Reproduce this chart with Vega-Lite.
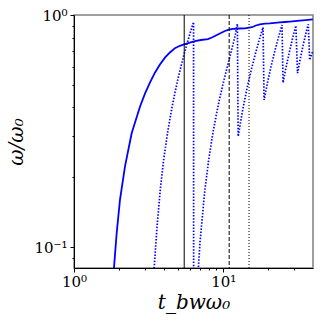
{
  "$schema": "https://vega.github.io/schema/vega-lite/v6.json",
  "width": 239,
  "height": 253,
  "autosize": {"type": "none"},
  "padding": {"left": 74, "top": 15, "right": 12, "bottom": 57},
  "background": "white",
  "config": {
    "view": {"stroke": "#808080", "strokeWidth": 1.5},
    "axis": {"grid": false, "domainColor": "#000000", "tickColor": "#000000", "labelColor": "#000000", "titleColor": "#000000", "labelFont": "DejaVu Serif", "titleFont": "DejaVu Serif"}
  },
  "datasets": {
    "solid": [
      {"t": 1.850, "w": 0.0800}, {"t": 1.853, "w": 0.0814}, {"t": 1.932, "w": 0.1149}, {"t": 2.033, "w": 0.1598},
      {"t": 2.196, "w": 0.2223}, {"t": 2.435, "w": 0.3096}, {"t": 2.768, "w": 0.4029}, {"t": 2.990, "w": 0.4584},
      {"t": 3.228, "w": 0.5111}, {"t": 3.487, "w": 0.5644}, {"t": 3.767, "w": 0.6121}, {"t": 4.069, "w": 0.6549},
      {"t": 4.395, "w": 0.6896}, {"t": 4.748, "w": 0.7196}, {"t": 5.128, "w": 0.7369}, {"t": 5.539, "w": 0.7487},
      {"t": 5.982, "w": 0.7607}, {"t": 6.463, "w": 0.7713}, {"t": 7.090, "w": 0.7805}, {"t": 7.898, "w": 0.7867},
      {"t": 8.401, "w": 0.7997}, {"t": 9.075, "w": 0.8204}, {"t": 9.651, "w": 0.8365}, {"t": 10.27, "w": 0.8536},
      {"t": 10.92, "w": 0.8651}, {"t": 11.61, "w": 0.8720}, {"t": 12.74, "w": 0.8746}, {"t": 13.98, "w": 0.8764},
      {"t": 15.57, "w": 0.8860}, {"t": 16.56, "w": 0.9012}, {"t": 17.61, "w": 0.9120}, {"t": 19.02, "w": 0.9183},
      {"t": 20.55, "w": 0.9211}, {"t": 22.20, "w": 0.9256}, {"t": 23.98, "w": 0.9302}, {"t": 25.91, "w": 0.9330},
      {"t": 27.98, "w": 0.9367}, {"t": 30.22, "w": 0.9404}, {"t": 32.65, "w": 0.9451}, {"t": 35.81, "w": 0.9507},
      {"t": 39.88, "w": 0.9574}
    ],
    "dotted": [
      {"seg": "a", "t": 3.41, "w": 0.074}, {"seg": "a", "t": 3.5, "w": 0.094}, {"seg": "a", "t": 3.6, "w": 0.122},
      {"seg": "a", "t": 3.8, "w": 0.181}, {"seg": "a", "t": 4.0, "w": 0.241}, {"seg": "a", "t": 4.25, "w": 0.315},
      {"seg": "a", "t": 4.5, "w": 0.389}, {"seg": "a", "t": 4.75, "w": 0.463}, {"seg": "a", "t": 5.0, "w": 0.538},
      {"seg": "a", "t": 5.25, "w": 0.612}, {"seg": "a", "t": 5.5, "w": 0.686}, {"seg": "a", "t": 5.75, "w": 0.760},
      {"seg": "a", "t": 6.0, "w": 0.835}, {"seg": "a", "t": 6.2, "w": 0.894}, {"seg": "a", "t": 6.33, "w": 0.933},
      {"seg": "a", "t": 6.34, "w": 0.05},
      {"seg": "b", "t": 6.76, "w": 0.075}, {"seg": "b", "t": 7.0, "w": 0.106}, {"seg": "b", "t": 7.5, "w": 0.171},
      {"seg": "b", "t": 8.0, "w": 0.239}, {"seg": "b", "t": 8.5, "w": 0.306}, {"seg": "b", "t": 9.0, "w": 0.373},
      {"seg": "b", "t": 9.5, "w": 0.441}, {"seg": "b", "t": 10.0, "w": 0.508}, {"seg": "b", "t": 10.5, "w": 0.577},
      {"seg": "b", "t": 11.0, "w": 0.648}, {"seg": "b", "t": 11.5, "w": 0.725}, {"seg": "b", "t": 12.0, "w": 0.810},
      {"seg": "b", "t": 12.45, "w": 0.915}, {"seg": "b", "t": 12.6, "w": 0.300}, {"seg": "b", "t": 13.5, "w": 0.389},
      {"seg": "b", "t": 14.5, "w": 0.489}, {"seg": "b", "t": 15.5, "w": 0.588}, {"seg": "b", "t": 16.5, "w": 0.687},
      {"seg": "b", "t": 17.5, "w": 0.786}, {"seg": "b", "t": 18.5, "w": 0.885}, {"seg": "b", "t": 18.8, "w": 0.431},
      {"seg": "b", "t": 20.0, "w": 0.526}, {"seg": "b", "t": 21.0, "w": 0.605}, {"seg": "b", "t": 22.0, "w": 0.684},
      {"seg": "b", "t": 23.0, "w": 0.763}, {"seg": "b", "t": 24.0, "w": 0.843}, {"seg": "b", "t": 24.8, "w": 0.906},
      {"seg": "b", "t": 25.2, "w": 0.511}, {"seg": "b", "t": 26.0, "w": 0.568}, {"seg": "b", "t": 27.0, "w": 0.638},
      {"seg": "b", "t": 28.0, "w": 0.709}, {"seg": "b", "t": 29.0, "w": 0.780}, {"seg": "b", "t": 30.0, "w": 0.851},
      {"seg": "b", "t": 30.7, "w": 0.900}, {"seg": "b", "t": 31.5, "w": 0.562}, {"seg": "b", "t": 32.5, "w": 0.625},
      {"seg": "b", "t": 33.5, "w": 0.687}, {"seg": "b", "t": 34.5, "w": 0.750}, {"seg": "b", "t": 35.5, "w": 0.812},
      {"seg": "b", "t": 36.5, "w": 0.875}, {"seg": "b", "t": 37.2, "w": 0.912}, {"seg": "b", "t": 38.0, "w": 0.640},
      {"seg": "b", "t": 39.0, "w": 0.672}, {"seg": "b", "t": 40.0, "w": 0.703}
    ],
    "markers": [
      {"t": 5.48, "kind": "solid"},
      {"t": 10.97, "kind": "dashed"},
      {"t": 14.9, "kind": "dotted"}
    ]
  },
  "layer": [
    {
      "data": {"name": "solid"},
      "mark": {"type": "line", "color": "#0000ff", "strokeWidth": 1.8, "clip": true},
      "encoding": {
        "x": {"field": "t", "type": "quantitative",
          "scale": {"type": "log", "domain": [1, 40], "nice": false},
          "axis": {"orient": "bottom", "values": [1, 10], "labelExpr": "datum.value < 5 ? '10⁰' : '10¹'",
            "tickSize": 4, "tickWidth": 1, "domainWidth": 1, "labelFontSize": 15, "labelPadding": 2, "labelFlush": false,
            "title": "t_bwω₀", "titleFontSize": 20, "titleFontStyle": "italic", "titleFontWeight": "normal", "titlePadding": 3, "zindex": 1}},
        "y": {"field": "w", "type": "quantitative",
          "scale": {"type": "log", "domain": [0.0814, 1], "nice": false, "zero": false},
          "axis": {"orient": "left", "values": [0.1, 1], "labelExpr": "datum.value > 0.5 ? '10⁰' : '10⁻¹'",
            "tickSize": 4, "tickWidth": 1, "domainWidth": 1, "labelFontSize": 15, "labelPadding": 3, "labelFlush": false,
            "title": "ω/ω₀", "titleFontSize": 20, "titleFontStyle": "italic", "titleFontWeight": "normal", "titlePadding": 7, "zindex": 1}}
      }
    },
    {
      "data": {"name": "dotted"},
      "mark": {"type": "line", "color": "#0000ff", "strokeWidth": 1.7, "strokeDash": [1.5, 1.6], "clip": true},
      "encoding": {
        "x": {"field": "t", "type": "quantitative",
          "axis": {"orient": "bottom", "values": [2, 3, 4, 5, 6, 7, 8, 9, 20, 30], "labels": false, "tickSize": 2, "tickWidth": 1, "domain": false, "title": null, "zindex": 1}},
        "y": {"field": "w", "type": "quantitative",
          "axis": {"orient": "left", "values": [0.09, 0.2, 0.3, 0.4, 0.5, 0.6, 0.7, 0.8, 0.9], "labels": false, "tickSize": 2, "tickWidth": 1, "domain": false, "title": null, "zindex": 1}},
        "detail": {"field": "seg", "type": "nominal"}
      }
    },
    {
      "data": {"name": "markers"},
      "mark": {"type": "rule", "color": "#000000", "strokeWidth": 1},
      "encoding": {
        "x": {"field": "t", "type": "quantitative", "axis": null},
        "strokeDash": {"field": "kind", "type": "nominal",
          "scale": {"domain": ["solid", "dashed", "dotted"], "range": [[1, 0], [4, 2], [1, 2]]}, "legend": null}
      }
    }
  ],
  "resolve": {"axis": {"x": "independent", "y": "independent"}}
}
